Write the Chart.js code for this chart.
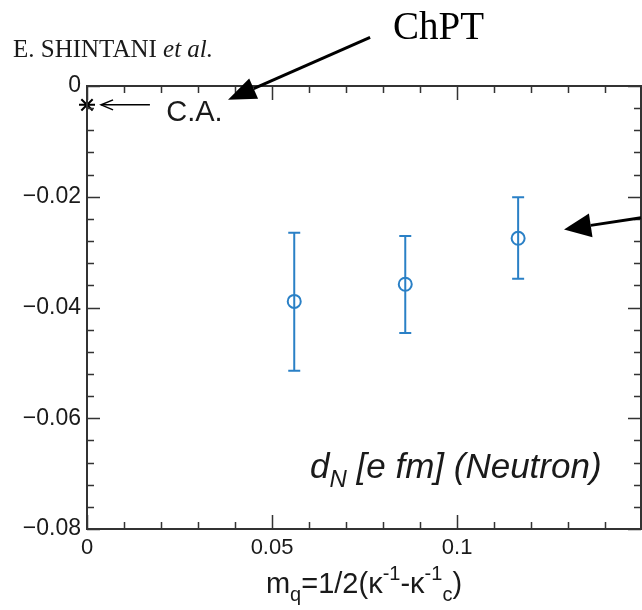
<!DOCTYPE html>
<html>
<head>
<meta charset="utf-8">
<script src="https://cdn.jsdelivr.net/npm/chart.js@4.4.1/dist/chart.umd.min.js"></script>
<style>
  html, body { margin: 0; padding: 0; background: #fff; overflow: hidden; }
  canvas { display: block; }
</style>
</head>
<body>
<canvas id="chart" width="642" height="610"></canvas>
<script>
// lattice points: m_q and d_N with error bars
const mq = [0.056, 0.086, 0.1165];
const dN = [-0.0389, -0.0358, -0.0275];
const dNHigh = [-0.0265, -0.0271, -0.0201];
const dNLow = [-0.0514, -0.0446, -0.0348];

// C.A. point at m_q = 0
const caX = [0];
const caY = [-0.0034];

// tick labels
const xTickValues = [0, 0.05, 0.1];
const xTickLabels = ["0", "0.05", "0.1"];
const yTickValues = [0, -0.02, -0.04, -0.06, -0.08];
const yTickLabels = ["0", "\u22120.02", "\u22120.04", "\u22120.06", "\u22120.08"];

const blue = "#2a80c6";
const ink = "#1a1a1a";
const sans = "'Liberation Sans', Arial, sans-serif";
const serif = "'Liberation Serif', 'Times New Roman', serif";
const plotRight = 641;

function near(a, b) { return Math.abs(a - b) < 1e-9; }

function labelFor(values, labels, v) {
  const i = values.findIndex(t => near(t, v));
  return i < 0 ? "" : labels[i];
}

function drawArrow(ctx, x0, y0, x1, y1, len, half, solid, lw) {
  const a = Math.atan2(y1 - y0, x1 - x0);
  const bx = x1 - len * Math.cos(a), by = y1 - len * Math.sin(a);
  const px = -Math.sin(a) * half, py = Math.cos(a) * half;
  ctx.save();
  ctx.strokeStyle = "#000";
  ctx.fillStyle = "#000";
  ctx.lineWidth = lw;
  ctx.beginPath();
  ctx.moveTo(x0, y0);
  ctx.lineTo(solid ? bx : x1, solid ? by : y1);
  ctx.stroke();
  ctx.beginPath();
  if (solid) {
    ctx.moveTo(x1, y1);
    ctx.lineTo(bx + px, by + py);
    ctx.lineTo(bx - px, by - py);
    ctx.closePath();
    ctx.fill();
  } else {
    ctx.moveTo(bx + px, by + py);
    ctx.lineTo(x1, y1);
    ctx.lineTo(bx - px, by - py);
    ctx.stroke();
  }
  ctx.restore();
}

// draws pieces of text one after another: [text, size, dy, italic]
function richText(ctx, parts, x, y, align) {
  let w = 0;
  parts.forEach(p => {
    ctx.font = (p[3] ? "italic " : "") + p[1] + "px " + sans;
    w += ctx.measureText(p[0]).width;
  });
  let cx = align === "center" ? x - w / 2 : x;
  ctx.textAlign = "left";
  ctx.textBaseline = "alphabetic";
  parts.forEach(p => {
    ctx.font = (p[3] ? "italic " : "") + p[1] + "px " + sans;
    ctx.fillText(p[0], cx, y + p[2]);
    cx += ctx.measureText(p[0]).width;
  });
}

// the plot box runs to the right edge of the picture
const stretchRight = {
  id: "stretchRight",
  afterLayout(chart) {
    const x = chart.scales.x, a = chart.chartArea;
    if (a.right < plotRight) {
      x.right = plotRight;
      x.width = x.right - x.left;
      x.configure();
      a.right = plotRight;
      a.width = a.right - a.left;
    }
  }
};

const errorBars = {
  id: "errorBars",
  beforeDatasetsDraw(chart) {
    const { ctx, scales: { x, y } } = chart;
    ctx.save();
    ctx.strokeStyle = blue;
    ctx.lineWidth = 2;
    mq.forEach((m, i) => {
      const px = x.getPixelForValue(m);
      const top = y.getPixelForValue(dNHigh[i]);
      const bot = y.getPixelForValue(dNLow[i]);
      ctx.beginPath();
      ctx.moveTo(px, top); ctx.lineTo(px, bot);
      ctx.moveTo(px - 6, top); ctx.lineTo(px + 6, top);
      ctx.moveTo(px - 6, bot); ctx.lineTo(px + 6, bot);
      ctx.stroke();
    });
    ctx.restore();
  }
};

const frameAndNotes = {
  id: "frameAndNotes",
  afterDraw(chart) {
    const { ctx, chartArea: a, scales: { x, y } } = chart;
    ctx.save();
    // inward ticks on all four sides
    ctx.strokeStyle = "#333";
    ctx.lineWidth = 1.5;
    ctx.beginPath();
    x.ticks.forEach(t => {
      const px = Math.round(x.getPixelForValue(t.value)) + 0.5;
      const len = xTickValues.some(v => near(v, t.value)) ? 14 : 7;
      ctx.moveTo(px, a.bottom); ctx.lineTo(px, a.bottom - len);
      ctx.moveTo(px, a.top); ctx.lineTo(px, a.top + len);
    });
    y.ticks.forEach(t => {
      const py = Math.round(y.getPixelForValue(t.value)) + 0.5;
      const len = yTickValues.some(v => near(v, t.value)) ? 13 : 7;
      ctx.moveTo(a.left, py); ctx.lineTo(a.left + len, py);
      ctx.moveTo(a.right, py); ctx.lineTo(a.right - len, py);
    });
    ctx.stroke();
    ctx.lineWidth = 2;
    ctx.strokeRect(a.left, a.top, a.right - a.left, a.bottom - a.top);

    // arrows (data units)
    const P = (vx, vy) => [x.getPixelForValue(vx), y.getPixelForValue(vy)];
    let s = P(0.0765, 0.0088), e = P(0.0381, -0.0025);
    drawArrow(ctx, s[0], s[1], e[0], e[1], 28, 11, true, 3);
    s = P(0.1497, -0.0238); e = P(0.1289, -0.0259);
    drawArrow(ctx, s[0], s[1], e[0], e[1], 27, 12, true, 3);
    s = P(0.017, -0.0034); e = P(0.0038, -0.0034);
    drawArrow(ctx, s[0], s[1], e[0], e[1], 12, 5, false, 1.5);

    ctx.fillStyle = ink;
    ctx.textBaseline = "alphabetic";
    ctx.textAlign = "left";
    ctx.font = "25px " + serif;
    ctx.fillText("E. SHINTANI ", 13, 57);
    const w = ctx.measureText("E. SHINTANI ").width;
    ctx.font = "italic 25px " + serif;
    ctx.fillText("et al.", 13 + w, 57);

    ctx.fillStyle = "#000";
    ctx.font = "39px " + serif;
    ctx.fillText("ChPT", 393, 39);

    ctx.fillStyle = ink;
    ctx.font = "29px " + sans;
    const ca = P(0.0214, -0.0034);
    ctx.textBaseline = "middle";
    ctx.fillText("C.A.", ca[0], ca[1] + 8);

    richText(ctx, [
      ["d", 35, 0, true], ["N", 24, 9, true], [" [e fm] (Neutron)", 35, 0, true]
    ], 310, 478, "left");

    richText(ctx, [
      ["m", 29, 0], ["q", 20, 8], ["=1/2(\u03ba", 29, 0], ["-1", 20, -13],
      ["-\u03ba", 29, 0], ["-1", 20, -13], ["c", 20, 8], [")", 29, 0]
    ], (a.left + a.right) / 2, 593, "center");
    ctx.restore();
  }
};

new Chart(document.getElementById("chart"), {
  type: "scatter",
  data: {
    datasets: [
      {
        label: "lattice",
        data: mq.map((m, i) => ({ x: m, y: dN[i] })),
        pointStyle: "circle",
        pointRadius: 6.5,
        pointBorderWidth: 2,
        borderColor: blue,
        backgroundColor: "rgba(0,0,0,0)"
      },
      {
        label: "C.A.",
        data: caX.map((v, i) => ({ x: v, y: caY[i] })),
        pointStyle: "star",
        pointRadius: 8,
        pointBorderWidth: 2,
        borderColor: "#000",
        backgroundColor: "#000",
        clip: false
      }
    ]
  },
  options: {
    responsive: false,
    animation: false,
    layout: { padding: { top: 86, right: 1, left: 0, bottom: 0 } },
    plugins: { legend: { display: false }, tooltip: { enabled: false } },
    scales: {
      x: {
        type: "linear",
        min: 0,
        max: 0.1497,
        grid: { display: false, drawTicks: false },
        border: { display: false },
        afterBuildTicks: s => {
          const t = [];
          for (let i = 0; i <= 14; i++) t.push({ value: i / 100 });
          s.ticks = t;
        },
        afterFit: s => { s.height = 81; s.paddingLeft = 0; s.paddingRight = 0; },
        ticks: {
          padding: 6,
          color: ink,
          font: { family: sans, size: 22 },
          maxRotation: 0,
          autoSkip: false,
          callback: v => labelFor(xTickValues, xTickLabels, v)
        }
      },
      y: {
        type: "linear",
        min: -0.08,
        max: 0,
        grid: { display: false, drawTicks: false },
        border: { display: false },
        afterBuildTicks: s => {
          const t = [];
          for (let i = 0; i <= 20; i++) t.push({ value: -i * 0.004 });
          s.ticks = t;
        },
        afterFit: s => { s.width = 87; },
        ticks: {
          padding: 6,
          color: ink,
          font: { family: sans, size: 23 },
          autoSkip: false,
          callback: v => labelFor(yTickValues, yTickLabels, v)
        }
      }
    }
  },
  plugins: [stretchRight, errorBars, frameAndNotes]
});
</script>
</body>
</html>
